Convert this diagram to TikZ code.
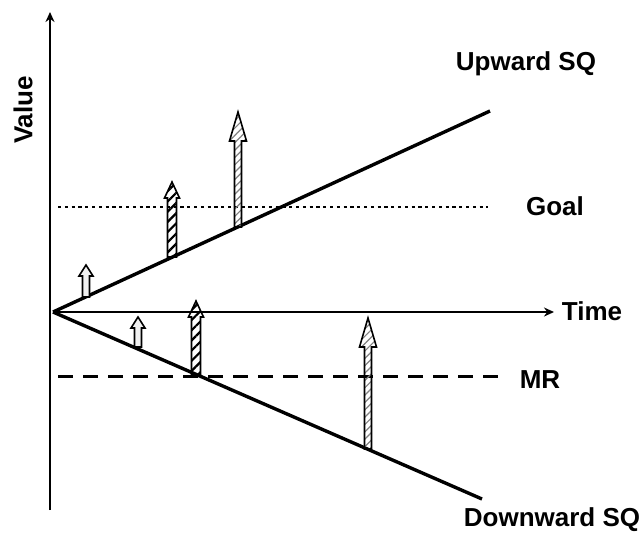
\documentclass[tikz,border=0pt]{standalone}
\usepackage{fontspec}
\setmainfont{Liberation Sans}
\usetikzlibrary{arrows.meta,patterns.meta}

\begin{document}
\begin{tikzpicture}[x=0.5pt,y=-0.5pt,line cap=butt,line join=miter,
 lbl/.style={font=\fontsize{13}{15}\selectfont\bfseries,inner sep=0pt},
 axisline/.style={line width=1.2pt,-{Stealth[length=5pt,width=4.5pt]}},
 sqline/.style={line width=1.7pt},
 smallgain/.style={draw,line width=0.8pt,fill=gray!12},
 stripegain/.style={draw,line width=0.8pt,fill=white,
   pattern={Lines[angle=45,distance=3.6pt,line width=1.1pt]}},
 tallgain/.style={draw,line width=0.8pt,fill=white,
   pattern={Lines[angle=45,distance=2.6pt,line width=0.6pt]},pattern color=gray}]
 \useasboundingbox (0,0) rectangle (644,532);
 % Axes.
 \coordinate (vbot) at (50,510);
 \coordinate (vtop) at (50,12);
 \coordinate (O) at (53,312);
 \coordinate (tend) at (554,312);
 \draw[axisline] (vbot) -- (vtop);
 \draw[axisline] (O) -- (tend);
 % Goal and MR levels.
 \coordinate (goalL) at (58,207);
 \coordinate (goalR) at (488,207);
 \coordinate (mrL) at (58,376);
 \coordinate (mrR) at (498,376);
 \draw[line width=1.4pt,dash pattern=on 1.6pt off 1.8pt] (goalL) -- (goalR);
 \draw[line width=1.5pt,dash pattern=on 7.5pt off 5pt] (mrL) -- (mrR);
 % Status quo paths.
 \coordinate (upend) at (490,111);
 \coordinate (downend) at (482,499);
 \draw[sqline] (O) -- (upend);
 \draw[sqline] (O) -- (downend);
 % Gains measured from the status quo.
 \foreach \x/\yb/\yt in {86/297/265,138/347/317}
  \draw[smallgain] (\x-3.5,\yb) -- (\x-3.5,\yt+11) -- (\x-7,\yt+11) -- (\x,\yt)
   -- (\x+7,\yt+11) -- (\x+3.5,\yt+11) -- (\x+3.5,\yb) -- cycle;
 \foreach \x/\yb/\yt in {172/257/182,196/375/301}
  \draw[stripegain] (\x-4.5,\yb) -- (\x-4.5,\yt+16) -- (\x-7.5,\yt+16) -- (\x,\yt)
   -- (\x+7.5,\yt+16) -- (\x+4.5,\yt+16) -- (\x+4.5,\yb) -- cycle;
 \foreach \x/\yb/\yt in {238/227/112,368/449/318}
  \draw[tallgain] (\x-3.5,\yb) -- (\x-3.5,\yt+29) -- (\x-8.5,\yt+29) -- (\x,\yt)
   -- (\x+8.5,\yt+29) -- (\x+3.5,\yt+29) -- (\x+3.5,\yb) -- cycle;
 % Labels.
 \node[lbl] (value) at (23,110) [rotate=90] {Value};
 \node[lbl] (time) at (592,311) {Time};
 \node[lbl] (upsq) at (526,64) {Upward SQ};
 \node[lbl] (goal) at (555,206) {Goal};
 \node[lbl] (mr) at (540,380) {MR};
 \node[lbl] (downsq) at (552,520) {Downward SQ};
\end{tikzpicture}
\end{document}
